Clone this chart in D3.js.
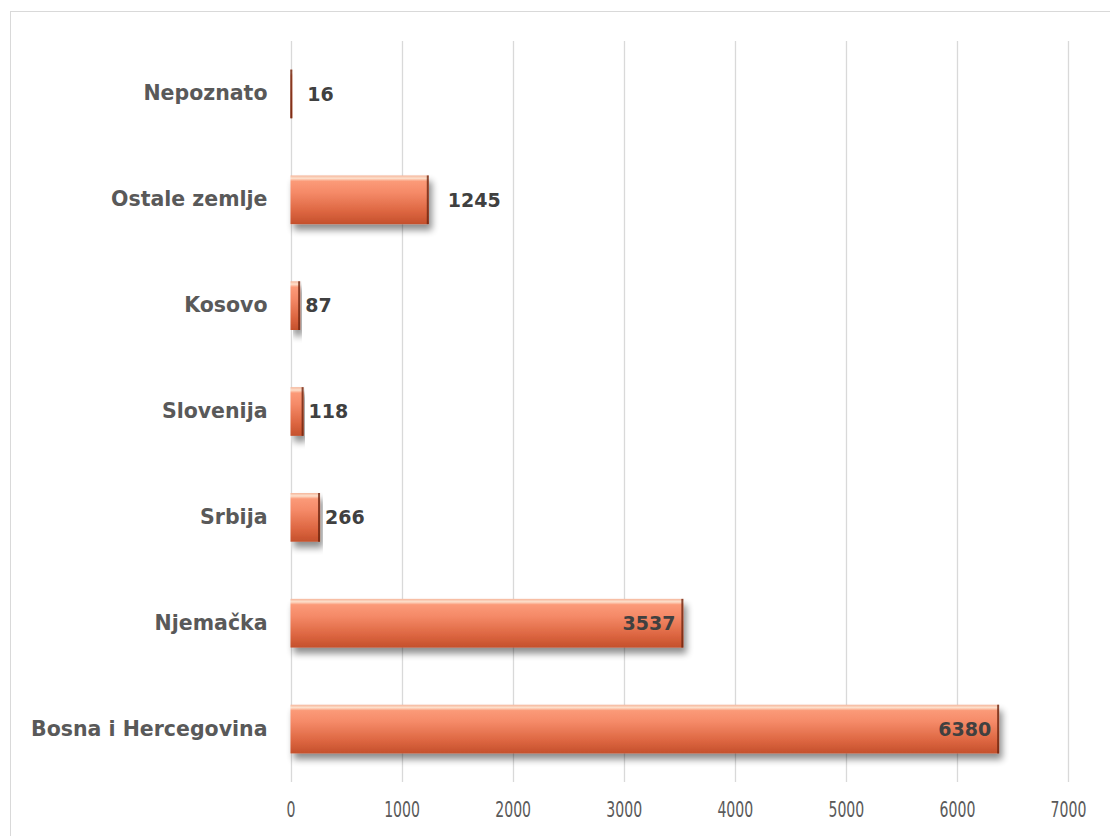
<!DOCTYPE html>
<html><head><meta charset="utf-8">
<script src="https://cdn.jsdelivr.net/npm/d3@7"></script>
<style>body{margin:0;background:#fff}svg{display:block}</style>
</head><body><svg id="c" width="1110" height="836"></svg>
<script>
const categories = ["Nepoznato","Ostale zemlje","Kosovo","Slovenija","Srbija","Njemačka","Bosna i Hercegovina"];
const values = [16,1245,87,118,266,3537,6380];
const ticks = [0,1000,2000,3000,4000,5000,6000,7000];
const insideLabels = ["Njemačka","Bosna i Hercegovina"];

const svg = d3.select("#c");
const W = 1110, H = 836;
const mLeft = 290.5, mRight = 1068, mTop = 41, mBottom = 782;

svg.append("rect").attr("x",10.5).attr("y",11.5).attr("width",W).attr("height",H)
  .attr("fill","#fff").attr("stroke","#d9d9d9").attr("stroke-width",1);

const defs = svg.append("defs");
const g = defs.append("linearGradient").attr("id","bg").attr("x1",0).attr("y1",0).attr("x2",0).attr("y2",1);
[[0,"#f5b59a"],[0.06,"#fde0cc"],[0.12,"#fb9a78"],[0.35,"#f58a68"],[0.75,"#dc6540"],[1,"#c4502c"]]
  .forEach(([o,c])=>g.append("stop").attr("offset",o).attr("stop-color",c));
const f = defs.append("filter").attr("id","sh").attr("x","-5%").attr("y","-20%").attr("width","115%").attr("height","170%");
f.append("feGaussianBlur").attr("in","SourceAlpha").attr("stdDeviation",3.5);
f.append("feOffset").attr("dx",3).attr("dy",6).attr("result","ob");
f.append("feComponentTransfer").append("feFuncA").attr("type","linear").attr("slope",0.45);
const m = f.append("feMerge"); m.append("feMergeNode"); m.append("feMergeNode").attr("in","SourceGraphic");

const x = d3.scaleLinear().domain([0,7000]).range([mLeft,mRight]);
const y = d3.scaleBand().domain(categories).range([mTop,mBottom]).paddingInner(0.54).paddingOuter(0.27);

// gridlines
svg.append("g").selectAll("line").data(ticks).join("line")
  .attr("x1",d=>Math.round(x(d))+0.5).attr("x2",d=>Math.round(x(d))+0.5)
  .attr("y1",mTop).attr("y2",mBottom).attr("stroke","#d9d9d9").attr("stroke-width",1.3);

// axis
const ax = svg.append("g").attr("transform",`translate(0,${mBottom})`)
  .call(d3.axisBottom(x).tickValues(ticks).tickSize(0).tickPadding(19).tickFormat(d3.format("d")));
ax.select(".domain").remove();
ax.selectAll("text").attr("font-family","'DejaVu Sans',sans-serif").attr("font-weight","normal")
  .attr("font-size",22).attr("fill","#5a5a5a").attr("transform","scale(0.64,1)");

// category labels
const ay = svg.append("g").attr("transform",`translate(${mLeft},0)`)
  .call(d3.axisLeft(y).tickSize(0).tickPadding(23));
ay.select(".domain").remove();
ay.selectAll("text").attr("font-family","'DejaVu Sans',sans-serif").attr("font-weight","bold")
  .attr("font-size",20.5).attr("fill","#595959");

// bars
const bars = svg.append("g").selectAll("g").data(categories).join("g").attr("filter","url(#sh)");
bars.append("rect").attr("x",x(0)).attr("y",d=>y(d)).attr("height",y.bandwidth())
  .attr("width",(d,i)=>Math.max(1.5,x(values[i])-x(0))).attr("fill","url(#bg)");
bars.append("rect").attr("x",(d,i)=>x(values[i])-2).attr("y",d=>y(d)).attr("height",y.bandwidth())
  .attr("width",2).attr("fill","#6b2410").attr("opacity",0.8);

// value labels
svg.append("g").selectAll("text").data(categories).join("text")
  .attr("x",(d,i)=>insideLabels.includes(d)? x(values[i])-8 : x(values[i])+ (values[i]>500?19:(values[i]<50?15:5)))
  .attr("y",d=>y(d)+y.bandwidth()/2).attr("dy","0.36em")
  .attr("text-anchor",d=>insideLabels.includes(d)?"end":"start")
  .attr("font-family","'DejaVu Sans',sans-serif").attr("font-weight","bold").attr("font-size",19)
  .attr("fill","#404040").text((d,i)=>values[i]);
</script></body></html>
